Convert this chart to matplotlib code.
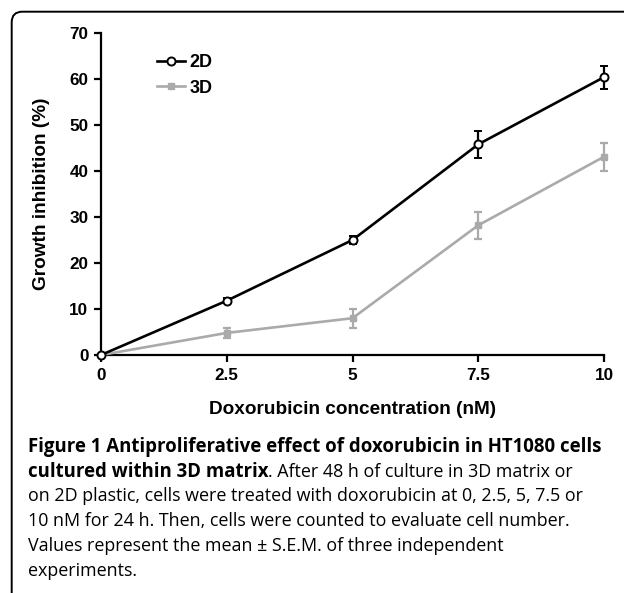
import matplotlib
matplotlib.use('Agg')
import matplotlib.pyplot as plt
from matplotlib.patches import FancyBboxPatch
from matplotlib.lines import Line2D

# data
conc = [0, 2.5, 5, 7.5, 10]
inhib_2d = [0, 11.8, 25.0, 45.8, 60.4]
err_2d = [0, 0.5, 0.8, 3.0, 2.5]
inhib_3d = [0, 4.8, 8.0, 28.2, 43.1]
err_3d = [0, 1.0, 2.1, 2.9, 3.0]
xticks = [0, 2.5, 5, 7.5, 10]
xticklabels = ['0', '2.5', '5', '7.5', '10']
yticks = [0, 10, 20, 30, 40, 50, 60, 70]

grey = '#aaaaaa'
chart_font = 'Liberation Sans'
cap_font = 'Open Sans'
W, H = 624, 593

fig = plt.figure(figsize=(W/100, H/100), dpi=100)

# rounded frame, only top and left edges fall inside the image
frame = FancyBboxPatch((11.7/W, -0.2), 1.0, 1.2 - 11.7/H,
                       boxstyle='round,pad=0,rounding_size=0.017',
                       transform=fig.transFigure, fill=False,
                       edgecolor='black', linewidth=1.4, mutation_aspect=W/H)
fig.patches.append(frame)

ax = fig.add_axes([101/W, 1 - 355/H, 503/W, 322/H])

style_3d = dict(color=grey, marker='s', markersize=5, mfc=grey, mec=grey, linewidth=1.9)
style_2d = dict(color='black', marker='o', markersize=5.8, mfc='white', mec='black',
                mew=1.4, linewidth=1.9)

ax.errorbar(conc, inhib_3d, yerr=err_3d, elinewidth=1.6, capsize=2.6,
            capthick=1.6, clip_on=False, zorder=3, **style_3d)
ax.errorbar(conc, inhib_2d, yerr=err_2d, elinewidth=1.6, capsize=2.6,
            capthick=1.6, clip_on=False, zorder=4, **style_2d)

ax.set_xlim(0, 10)
ax.set_ylim(0, 70)
ax.set_xticks(xticks)
ax.set_xticklabels(xticklabels)
ax.set_yticks(yticks)

for s in ['top', 'right']:
    ax.spines[s].set_visible(False)
for s in ['left', 'bottom']:
    ax.spines[s].set_linewidth(1.6)
ax.tick_params(width=1.6, length=5, labelsize=12.3)
ax.tick_params(axis='x', pad=4.5)
ax.tick_params(axis='y', pad=4)
for lab in ax.get_xticklabels() + ax.get_yticklabels():
    lab.set_fontfamily(chart_font)
    lab.set_fontweight('bold')

ax.set_xlabel('Doxorubicin concentration (nM)', fontsize=13.7, fontweight='bold',
              family=chart_font)
ax.set_ylabel('Growth inhibition (%)', fontsize=13.7, fontweight='bold',
              family=chart_font)
ax.xaxis.label.set_va('center')
ax.yaxis.label.set_va('center')
ax.xaxis.set_label_coords(0.5, (355 - 410) / 322)
ax.yaxis.set_label_coords((42 - 101) / 503, 0.5)

# legend shows line + marker only (no error bars)
handles = [Line2D([], [], **style_2d), Line2D([], [], **style_3d)]
leg = ax.legend(handles, ['2D', '3D'], loc='center left',
                bbox_to_anchor=(157/W, 1 - 75.5/H), bbox_transform=fig.transFigure,
                frameon=False, handlelength=1.55, handletextpad=0.25,
                borderpad=0, borderaxespad=0, labelspacing=0.45,
                prop={'family': chart_font, 'weight': 'bold', 'size': 13})

# caption, sized so that "Figure 1 Antiprolif" is about 168 px wide
fig.canvas.draw()
r = fig.canvas.get_renderer()
probe = fig.text(0, 0, 'Figure 1 Antiprolif', fontsize=10, fontweight='bold',
                 family=cap_font)
fs = 10 * 168 / probe.get_window_extent(r).width
probe.remove()

x0 = 28 / W
y0 = 1 - 447/H
dy = 24.7/H
fig.text(x0, y0, 'Figure 1 Antiproliferative effect of doxorubicin in HT1080 cells',
         fontsize=fs, fontweight='bold', family=cap_font, va='center')
t = fig.text(x0, y0 - dy, 'cultured within 3D matrix', fontsize=fs,
             fontweight='bold', family=cap_font, va='center')
bb = t.get_window_extent(r)
fig.text(bb.x1 / W, y0 - dy, '. After 48 h of culture in 3D matrix or',
         fontsize=fs * 0.96, family=cap_font, va='center')
rest = ['on 2D plastic, cells were treated with doxorubicin at 0, 2.5, 5, 7.5 or',
        '10 nM for 24 h. Then, cells were counted to evaluate cell number.',
        'Values represent the mean \u00b1 S.E.M. of three independent',
        'experiments.']
for i, line in enumerate(rest):
    fig.text(x0, y0 - (i + 2) * dy, line, fontsize=fs * 0.96, family=cap_font,
             va='center')

fig.savefig('out.png', dpi=100)
